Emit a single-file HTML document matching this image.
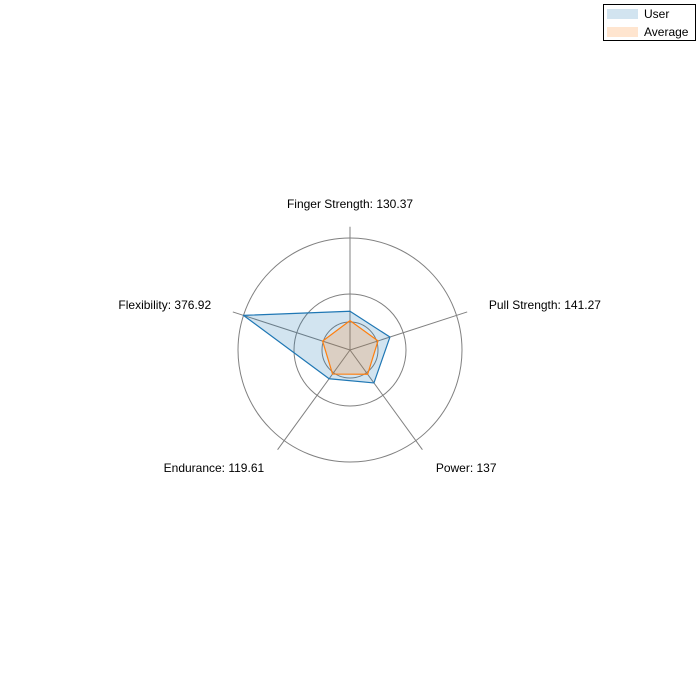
<!DOCTYPE html>
<html><head><meta charset="utf-8"><style>
html,body{margin:0;padding:0;background:#fff;}
svg{display:block;font-family:"Liberation Sans","DejaVu Sans",sans-serif;}
</style></head><body>
<svg id="chart" width="700" height="700" viewBox="0 0 700 700">
  <g id="grid"></g>
  <g id="series"></g>
  <g id="labels"></g>
  <g>
    <rect x="603.5" y="4.5" width="92" height="36" fill="#fff" stroke="#000" stroke-width="1"/>
    <rect x="607" y="9" width="31" height="10" fill="rgba(31,119,180,0.2)"/>
    <text x="644" y="18" font-size="12" fill="#000">User</text>
    <rect x="607" y="27" width="31" height="10" fill="rgba(255,127,14,0.2)"/>
    <text x="644" y="36" font-size="12" fill="#000">Average</text>
  </g>
</svg>
<script>
const categories = ["Finger Strength", "Pull Strength", "Power", "Endurance", "Flexibility"];
const userValues = [130.37, 141.27, 137, 119.61, 376.92];
const averageValues = [99, 99, 101, 100, 97];
const ringFractions = [0.25, 0.5, 1];

const NS = "http://www.w3.org/2000/svg";
const cx = 350, cy = 350, R = 112;
const maxV = Math.max(...userValues, ...averageValues);
function rScale(v){ return v / maxV * R; }
function angle(i){ return -Math.PI/2 + i * 2*Math.PI/categories.length; }
function pt(i, r){ return [cx + r*Math.cos(angle(i)), cy + r*Math.sin(angle(i))]; }
function mk(tag, attrs, parent){
  const e = document.createElementNS(NS, tag);
  for (const k in attrs) e.setAttribute(k, attrs[k]);
  parent.appendChild(e); return e;
}
const grid = document.getElementById('grid');
ringFractions.forEach((f, k) => {
  const c = mk('circle', {cx, cy, r: R*f, fill:'none', stroke:'#808080', 'stroke-width':1}, grid);
  
  
});
categories.forEach((c, i) => {
  const [x, y] = pt(i, R*1.1);
  const l = mk('line', {x1: cx, y1: cy, x2: x, y2: y, stroke:'#808080', 'stroke-width':1}, grid);
  
  
});
const series = document.getElementById('series');
function poly(vals, fill, stroke, name){
  const pts = vals.map((v, i) => pt(i, rScale(v)).join(',')).join(' ');
  const p = mk('polygon', {points: pts, fill, stroke, 'stroke-width': 1.2, 'stroke-linejoin':'round'}, series);
  
  
}
poly(userValues, 'rgba(31,119,180,0.2)', '#1f77b4', 'user-area');
poly(averageValues, 'rgba(255,127,14,0.2)', '#ff7f0e', 'average-area');
const labels = document.getElementById('labels');
categories.forEach((c, i) => {
  const [x, y] = pt(i, 146);
  const ca = Math.cos(angle(i));
  const anchor = Math.abs(ca) < 0.1 ? 'middle' : (ca > 0 ? 'start' : 'end');
  const t = mk('text', {x, y: y + 4, 'font-size': 12, 'text-anchor': anchor, fill:'#000'}, labels);
  t.textContent = c + ': ' + userValues[i];
  
  
});
</script>
</body></html>
